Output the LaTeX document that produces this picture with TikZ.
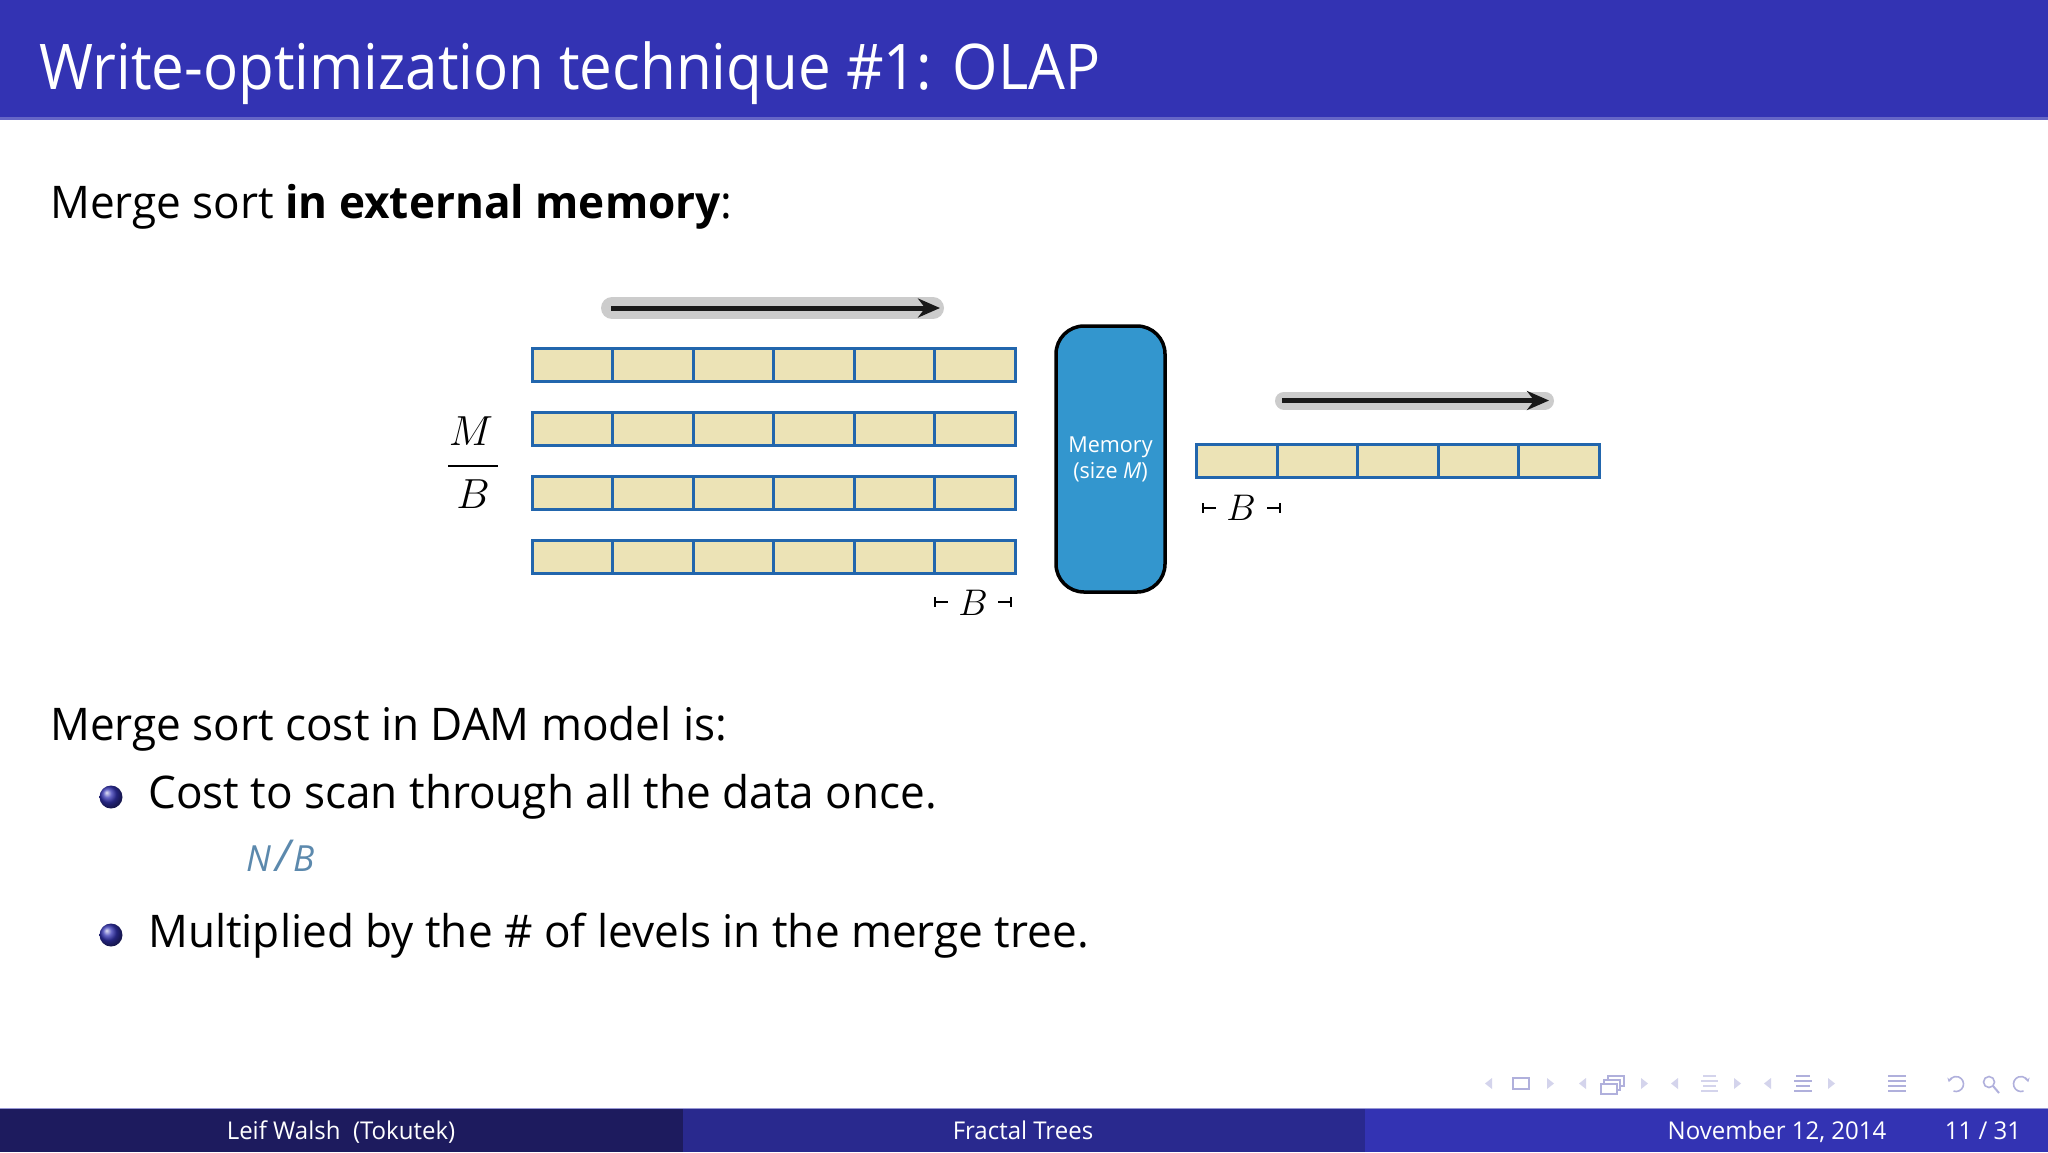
\documentclass[tikz,border=0pt]{standalone}
\usepackage{graphicx}
\usepackage{fontspec}
\setmainfont{Open Sans}[FakeStretch=0.98]
\newfontfamily\titlefont{Open Sans}[FakeStretch=0.925]
\usetikzlibrary{arrows.meta}
\definecolor{barblue}{HTML}{3333B3}
\definecolor{footA}{HTML}{1D1B5E}
\definecolor{footB}{HTML}{29298E}
\definecolor{footC}{HTML}{3333B3}
\definecolor{cellblue}{HTML}{2266AD}
\definecolor{cellfill}{HTML}{ECE3B6}
\definecolor{memblue}{HTML}{3396CE}
\definecolor{nbcol}{HTML}{5C89AD}
\definecolor{navcol}{HTML}{B0B0DC}
\definecolor{navlight}{HTML}{D4D4EC}
\newcommand{\bigmath}[2]{\scalebox{#1}{\fontsize{24.88}{30}\selectfont$#2$}}
\tikzset{
  cell/.style={draw=cellblue, fill=cellfill, line width=3pt, minimum width=80.5pt, minimum height=33.5pt, inner sep=0pt, outer sep=0pt, anchor=north west},
  bodytext/.style={anchor=base west, inner sep=0pt, font=\fontsize{45}{52}\selectfont},
  foottext/.style={anchor=base, inner sep=0pt, text=white, font=\fontsize{24.5}{28}\selectfont},
  graybar/.style={line width=22pt, line cap=round, draw=black!20},
  blackarrow/.style={line width=5pt, draw=black!90, -{Stealth[length=22pt,width=19pt]}},
  dimmark/.style={line width=1.6pt, draw=black},
  navline/.style={line width=2pt, draw=navcol},
  bulletball/.style={ball color=barblue},
}
\begin{document}
\begin{tikzpicture}[x=1pt,y=-1pt]
% canvas
\fill[white] (0,0) rectangle (2048,1152);
\useasboundingbox (0,0) rectangle (2048,1152);
% title bar
\fill[barblue] (0,0) rectangle (2048,118);
\fill[barblue!75!white] (0,117) rectangle (2048,119.5);
\node[anchor=base west, inner sep=0pt, text=white, font=\titlefont\fontsize{63}{70}\selectfont] (title) at (39,89) {Write-optimization technique \#1: OLAP};
% heading
\node[bodytext] (head) at (50,218) {Merge sort \textbf{in external memory}:};
% left rows
\foreach \r/\yt in {1/348,2/412,3/476,4/540}{
  \foreach \c in {0,...,5}{
    \node[cell] (L\r c\c) at ({532+80.5*\c},\yt) {};
  }
}
% right row
\foreach \c in {0,...,4}{
  \node[cell] (Rc\c) at ({1196.5+80.5*\c},444) {};
}
% scan arrows
\coordinate (la1) at (612,308);
\coordinate (la2) at (933,308);
\coordinate (lb1) at (611,308);
\coordinate (lb2) at (940,308);
\draw[graybar] (la1) -- (la2);
\draw[blackarrow] (lb1) -- (lb2);
\coordinate (ra1) at (1284,400.5);
\coordinate (ra2) at (1545,400.5);
\coordinate (rb1) at (1282,400.5);
\coordinate (rb2) at (1549,400.5);
\draw[graybar, line width=18pt] (ra1) -- (ra2);
\draw[blackarrow] (rb1) -- (rb2);
% memory
\node[draw=black, line width=3.5pt, fill=memblue, rounded corners=28pt, minimum width=109pt, minimum height=266pt, inner sep=0pt, text=white, align=center, font=\fontsize{22}{26}\selectfont] (mem) at (1110.5,459) {Memory\\(size \textit{M})};
% M/B
\node[anchor=base, inner sep=0pt] (mnum) at (471,445.7) {\bigmath{1.69}{M}};
\node[anchor=base, inner sep=0pt] (bden) at (473,508) {\bigmath{1.69}{B}};
\coordinate (fb1) at (448,465.7);
\coordinate (fb2) at (498,465.7);
\draw[line width=2.4pt] (fb1) -- (fb2);
% |-B-| left
\node[anchor=base, inner sep=0pt] (bl) at (973,615) {\bigmath{1.49}{B}};
\draw[dimmark] (935,597) -- (935,607) (935,602) -- (948,602);
\draw[dimmark] (998,602) -- (1011,602) (1011,597) -- (1011,607);
% |-B-| right
\node[anchor=base, inner sep=0pt] (br) at (1241,520) {\bigmath{1.49}{B}};
\draw[dimmark] (1203,503) -- (1203,513) (1203,508) -- (1216,508);
\draw[dimmark] (1267,508) -- (1280,508) (1280,503) -- (1280,513);
% cost text
\node[bodytext] (cost) at (50,740) {Merge sort cost in DAM model is:};
\shade[bulletball] (111,797) circle (11.5pt);
\node[bodytext] (item1) at (148,808) {Cost to scan through all the data once.};
\node[anchor=base west, inner sep=0pt, text=nbcol, font=\fontsize{36}{42}\selectfont\itshape] (nb) at (246,871) {N\kern4pt{\fontsize{44}{44}\selectfont/}\kern3pt B};
\shade[bulletball] (111,935) circle (11.5pt);
\node[bodytext] (item2) at (148,947) {Multiplied by the \# of levels in the merge tree.};
% nav symbols
\fill[navlight] (1492,1078) -- (1485,1083.5) -- (1492,1089) -- cycle;
\draw[navline] (1513,1078) rectangle (1529,1089);
\fill[navlight] (1547,1078) -- (1554,1083.5) -- (1547,1089) -- cycle;
\fill[navlight] (1586,1078) -- (1579,1083.5) -- (1586,1089) -- cycle;
\draw[navline, line width=1.6pt] (1608,1076) rectangle (1624,1086);
\draw[navline, line width=1.6pt, fill=white] (1604,1080) rectangle (1620,1090);
\draw[navline, line width=1.6pt, fill=white] (1601,1084) rectangle (1617,1094);
\fill[navlight] (1641,1078) -- (1648,1083.5) -- (1641,1089) -- cycle;
\fill[navlight] (1678,1078) -- (1671,1083.5) -- (1678,1089) -- cycle;
\foreach \yy/\xa/\xb in {1076/1703/1716,1081/1701/1718,1086/1703/1716,1091/1701/1718}{\draw[navline, draw=navlight] (\xa,\yy) -- (\xb,\yy);}
\fill[navlight] (1734,1078) -- (1741,1083.5) -- (1734,1089) -- cycle;
\fill[navlight] (1771,1078) -- (1764,1083.5) -- (1771,1089) -- cycle;
\foreach \yy/\xa/\xb in {1076/1796/1810,1081/1794/1812,1086/1796/1810,1091/1794/1812}{\draw[navline] (\xa,\yy) -- (\xb,\yy);}
\fill[navlight] (1828,1078) -- (1835,1083.5) -- (1828,1089) -- cycle;
\foreach \yy in {1076,1081,1086,1091}{\draw[navline] (1888,\yy) -- (1906,\yy);}
\begin{scope}[shift={(1956,1084)}, y=1pt]
  \draw[navline, line width=1.6pt, -{Stealth[length=4pt,width=5pt]}] (-110:7.5) arc (-110:165:7.5);
\end{scope}
\draw[navline, line width=1.6pt] (1989,1082) circle (5.5);
\draw[navline, line width=2pt] (1993,1086) -- (1999,1093);
\begin{scope}[shift={(2021,1084)}, y=1pt]
  \draw[navline, line width=1.6pt, -{Stealth[length=4pt,width=5pt]}] (-70:7.5) arc (-70:-345:7.5);
\end{scope}
% footer
\fill[navcol!80!barblue] (0,1107.5) rectangle (2048,1109.5);
\fill[footA] (0,1109) rectangle (682.7,1152);
\fill[footB] (682.7,1109) rectangle (1365.3,1152);
\fill[footC] (1365.3,1109) rectangle (2048,1152);
\node[foottext] (fauthor) at (341,1139) {Leif Walsh~~(Tokutek)};
\node[foottext] (ftitle) at (1023,1139) {Fractal Trees};
\node[foottext] (fdate) at (1777,1139) {November 12, 2014};
\node[foottext] (fpage) at (1983,1139) {11 / 31};
\end{tikzpicture}
\end{document}
